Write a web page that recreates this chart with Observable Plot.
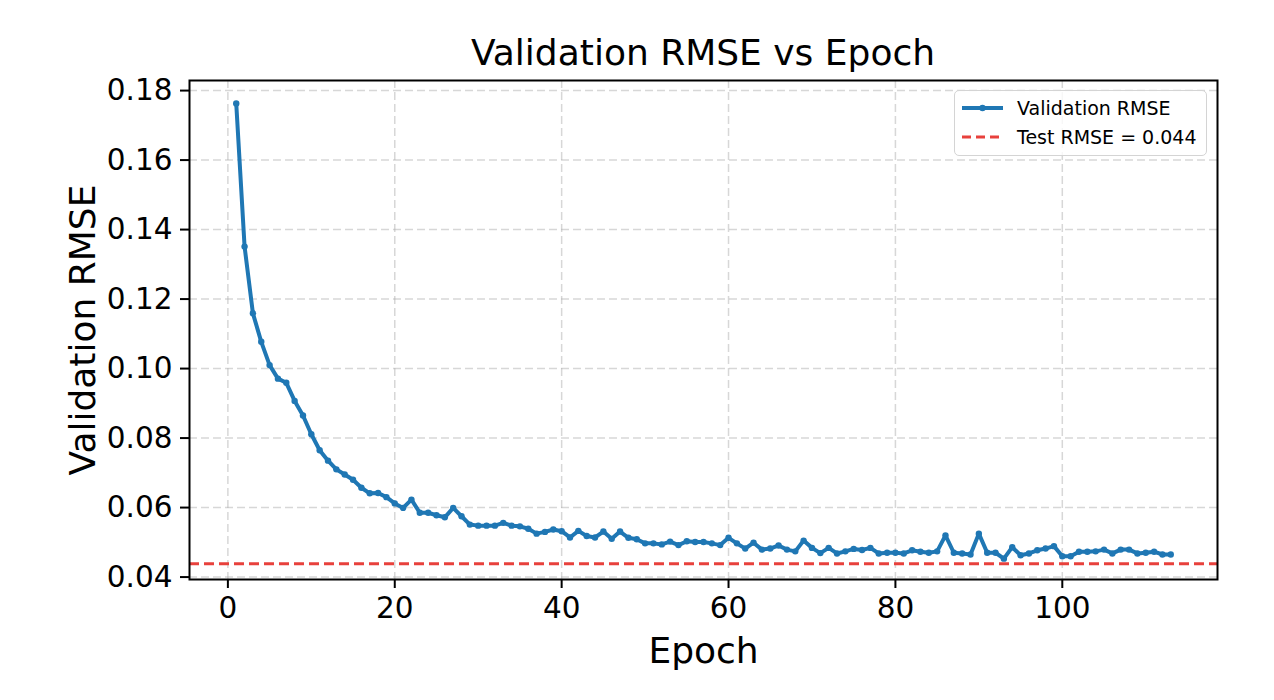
<!DOCTYPE html>
<html><head><meta charset="utf-8">
<script src="https://cdn.jsdelivr.net/npm/d3@7"></script>
<script src="https://cdn.jsdelivr.net/npm/@observablehq/plot@0.6"></script>
<style>
body{margin:0;background:#fff;font-family:"DejaVu Sans",sans-serif;color:#000;}
#wrap{position:relative;width:1274px;height:700px;overflow:hidden;}
#title{box-sizing:border-box;height:70px;padding:33px 57px 0 189px;line-height:40px;font-size:36px;text-align:center;white-space:nowrap;}
#legend{position:absolute;left:954px;top:90px;width:253px;height:66px;box-sizing:border-box;border:1.5px solid #d4d4d4;border-radius:5px;background:rgba(255,255,255,0.8);}
#legend .row{position:absolute;left:0;height:24px;line-height:24px;font-size:19px;white-space:nowrap;}
#legend svg{position:absolute;left:6px;top:0;}
#legend span{position:absolute;left:62px;top:0;}
</style></head><body>
<div id="wrap">
<div id="title">Validation RMSE vs Epoch</div>
<div id="chart"></div>
<div id="legend"></div>
</div>
<script>
const rmse = [
0.1763,0.1351,0.1159,0.1077,0.1010,0.0971,0.0959,0.0907,0.0865,0.0811,
0.0765,0.0735,0.0710,0.0695,0.0680,0.0657,0.0641,0.0642,0.0630,0.0612,
0.0599,0.0623,0.0585,0.0585,0.0578,0.0572,0.0599,0.0575,0.0551,0.0548,
0.0548,0.0548,0.0556,0.0548,0.0546,0.0539,0.0525,0.0530,0.0537,0.0532,
0.0514,0.0533,0.0518,0.0514,0.0531,0.0510,0.0531,0.0513,0.0509,0.0497,
0.0497,0.0494,0.0502,0.0492,0.0503,0.0501,0.0501,0.0497,0.0492,0.0513,
0.0497,0.0482,0.0499,0.0479,0.0482,0.0491,0.0479,0.0474,0.0505,0.0484,
0.0469,0.0484,0.0468,0.0474,0.0481,0.0478,0.0484,0.0468,0.0470,0.0470,
0.0468,0.0477,0.0473,0.0470,0.0474,0.0520,0.0470,0.0468,0.0465,0.0525,
0.0470,0.0470,0.0453,0.0486,0.0463,0.0468,0.0477,0.0482,0.0489,0.0460,
0.0460,0.0473,0.0473,0.0474,0.0479,0.0468,0.0479,0.0479,0.0468,0.0470,
0.0473,0.0465,0.0465
];
const epochs = rmse.map((_, i) => i + 1);
const testRmse = 0.0438;
const xTicks = [0, 20, 40, 60, 80, 100];
const yTicks = [0.04, 0.06, 0.08, 0.10, 0.12, 0.14, 0.16, 0.18];
const seriesLabel = "Validation RMSE";
const testLabel = "Test RMSE = 0.044";

const data = epochs.map((e, i) => ({epoch: e, rmse: rmse[i]}));
const blue = "#1f77b4", red = "#e8413c";
const gridStyle = {stroke: "#b0b0b0", strokeOpacity: 0.5, strokeDasharray: "8,4", strokeWidth: 1.5};

const chart = Plot.plot({
  width: 1274, height: 630,
  marginLeft: 189, marginRight: 57, marginTop: 10, marginBottom: 121,
  style: {fontFamily: "DejaVu Sans", background: "white", overflow: "visible", color: "black"},
  x: {domain: [-4.6, 118.6]},
  y: {domain: [0.0393, 0.1829]},
  marks: [
    Plot.gridX(xTicks, gridStyle),
    Plot.gridY(yTicks, gridStyle),
    Plot.ruleY([testRmse], {stroke: red, strokeWidth: 3, strokeDasharray: "10,5"}),
    Plot.line(data, {x: "epoch", y: "rmse", stroke: blue, strokeWidth: 4}),
    Plot.dot(data, {x: "epoch", y: "rmse", r: 3.2, fill: blue}),
    Plot.frame({stroke: "black", strokeWidth: 2}),
    Plot.axisX(xTicks, {tickSize: 9, tickPadding: 9, fontSize: 29.5, label: null, strokeWidth: 2}),
    Plot.axisY(yTicks, {tickSize: 9, tickPadding: 8, fontSize: 29.5, label: null, strokeWidth: 2, tickFormat: d => d.toFixed(2)}),
    Plot.text(["Epoch"], {frameAnchor: "bottom", dy: 83, fontSize: 36}),
    Plot.text([seriesLabel], {frameAnchor: "left", textAnchor: "middle", rotate: -90, dx: -106, fontSize: 36})
  ]
});
document.getElementById("chart").appendChild(chart);

const legend = document.getElementById("legend");
legend.innerHTML = `
<div class="row" style="top:5px;width:250px"><svg width="44" height="24"><line x1="1" x2="42" y1="12" y2="12" stroke="${blue}" stroke-width="4"/><circle cx="21.5" cy="12" r="3.2" fill="${blue}"/></svg><span>${seriesLabel}</span></div>
<div class="row" style="top:34px;width:250px"><svg width="44" height="24"><line x1="1" x2="42" y1="12" y2="12" stroke="${red}" stroke-width="3" stroke-dasharray="9,5"/></svg><span>${testLabel}</span></div>`;
</script>
</body></html>
